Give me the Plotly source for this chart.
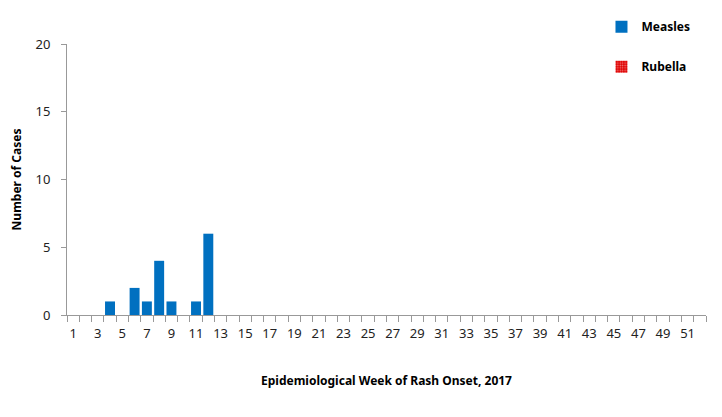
import plotly.graph_objects as go

weeks = list(range(1, 53))
measles = [0, 0, 0, 1, 0, 2, 1, 4, 1, 0, 1, 6] + [0] * 40
rubella = [0] * 52
tick_labels = [str(w) for w in range(1, 53, 2)]

font = "Noto Sans"

fig = go.Figure()
fig.add_trace(go.Bar(
    x=weeks, y=measles, name="Measles",
    marker=dict(color="#0070C0", line=dict(width=0)),
    legendgroup="m",
))
fig.add_trace(go.Bar(
    x=weeks, y=rubella, name="Rubella",
    marker=dict(color="#E00000", line=dict(width=0),
                pattern=dict(shape=".", fgcolor="#FFFFFF", bgcolor="#E00000", size=3, solidity=0.3)),
    legendgroup="r",
))

fig.update_layout(
    width=722, height=417,
    paper_bgcolor="#FFFFFF", plot_bgcolor="#FFFFFF",
    margin=dict(l=59, r=24, t=36, b=110, autoexpand=False),
    barmode="overlay", bargap=0.19,
    font=dict(family=font, size=13, color="#222222"),
    legend=dict(
        x=0.822, xref="container", y=0.99, yref="container", xanchor="left", yanchor="top",
        font=dict(family=font, size=12, color="#000000", weight="bold"),
        tracegroupgap=21, itemwidth=30, bgcolor="rgba(0,0,0,0)",
    ),
    showlegend=True,
)
fig.update_xaxes(
    range=[0.5, 52.5], tickmode="array", automargin=False,
    tickvals=list(range(1, 53, 2)), ticktext=tick_labels,
    ticks="", showline=True, linecolor="#999999", linewidth=1,
    showgrid=False, zeroline=False, ticklabelstandoff=6,
    minor=dict(tickmode="array", tickvals=[w + 0.5 for w in range(0, 53)],
               ticks="outside", ticklen=6, tickcolor="#999999", showgrid=False),
    tickfont=dict(family=font, size=13, color="#222222"),
    title=dict(text="Epidemiological Week of Rash Onset, 2017",
               font=dict(family=font, size=12, color="#000000", weight="bold"), standoff=36),
)
fig.update_yaxes(
    range=[0, 20], tickvals=[0, 5, 10, 15, 20], automargin=False,
    ticks="outside", ticklen=5, tickcolor="#999999",
    showline=True, linecolor="#999999", linewidth=1,
    showgrid=False, zeroline=False, ticklabelstandoff=8,
    tickfont=dict(family=font, size=13, color="#222222"),
    title=dict(text="Number of Cases",
               font=dict(family=font, size=12, color="#000000", weight="bold"), standoff=12),
)

fig.write_html("out.html")
